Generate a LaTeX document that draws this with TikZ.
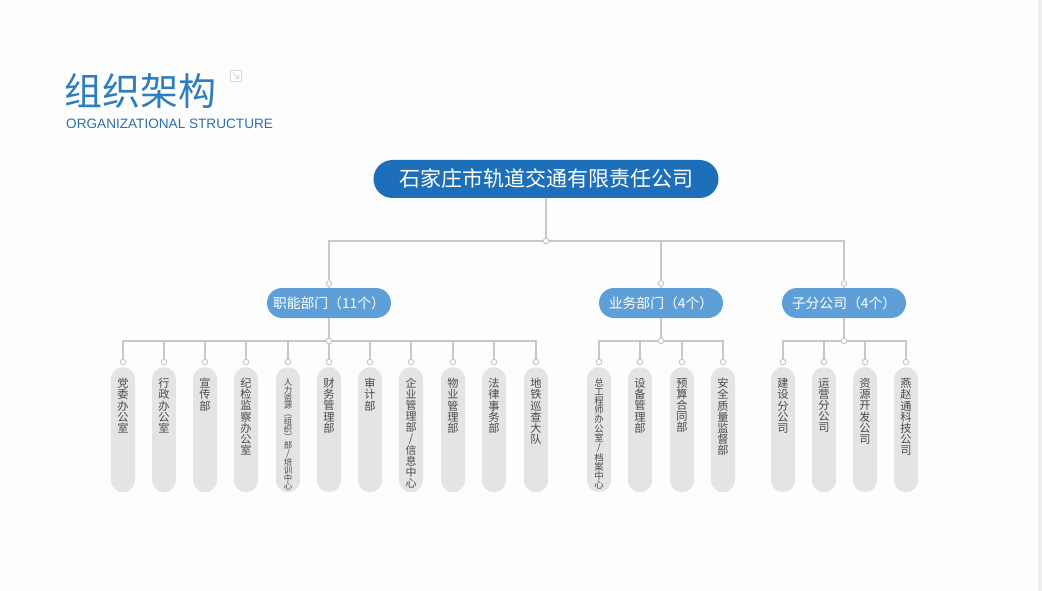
\documentclass[tikz,border=0pt]{standalone}
\usepackage{fontspec}
\newfontfamily\cjk{Noto Sans CJK SC}
\newfontfamily\lat{Liberation Sans}
\definecolor{bgc}{HTML}{FDFDFD}
\definecolor{edgec}{HTML}{EEEEEE}
\definecolor{titleblue}{HTML}{2D7EC0}
\definecolor{subblue}{HTML}{2A6FAF}
\definecolor{topblue}{HTML}{1C6FB8}
\definecolor{midblue}{HTML}{5D9FD6}
\definecolor{linec}{HTML}{C8C8CA}
\definecolor{pillc}{HTML}{E4E4E6}
\definecolor{labc}{HTML}{4A4A4A}
\definecolor{iconc}{HTML}{D8D8D8}
\tikzset{
  conn/.style={draw=linec, line width=1.4pt},
  dot/.style={circle, draw=linec, fill=white, line width=1pt, inner sep=0pt, minimum size=5.5pt},
  topbox/.style={rounded corners=19pt, fill=topblue, text=white, minimum width=345pt, minimum height=38pt, inner sep=0pt, font=\cjk\fontsize{21}{21}\selectfont},
  midbox/.style={rounded corners=15pt, fill=midblue, text=white, minimum width=124pt, minimum height=30pt, inner sep=0pt, font=\cjk\fontsize{13.8}{13.8}\selectfont},
  pill/.style={rounded corners=12pt, fill=pillc, minimum width=24pt, minimum height=125pt, anchor=north, inner sep=0pt},
  vlab/.style={anchor=north, text=labc, align=center, inner sep=0pt},
}
\newcommand\leaf[5]{%
  \node[pill] (p#1) at (#2,367) {};
  \node[dot] (e#1) at (#2,362) {};
  \node[vlab, font=\cjk\fontsize{#4}{#5}\selectfont] (t#1) at (#2,378) {#3};
}
\begin{document}
\begin{tikzpicture}[x=1pt,y=-1pt]
\useasboundingbox (0,0) rectangle (1042,591);
\fill[bgc] (0,0) rectangle (1042,591);
\fill[edgec] (1038,0) rectangle (1042,591);
% title
\node[anchor=west, text=titleblue, font=\cjk\fontsize{38}{38}\selectfont, inner sep=0pt] (title) at (64,91) {组织架构};
\node[anchor=west, text=subblue, font=\lat\fontsize{13.6}{13.6}\selectfont, inner sep=0pt] (sub) at (66,123.5) {ORGANIZATIONAL STRUCTURE};
\draw[iconc, fill=white, line width=0.8pt] (230,70) rectangle (241,81);
\draw[iconc, line width=1pt] (232.5,72.5) -- (238.5,78.5) (238.5,74.5) -- (238.5,78.5) -- (234.5,78.5);
% top
\node[topbox] (top) at (546,179) {石家庄市轨道交通有限责任公司};
\node[dot] (j0) at (546,241) {};
% middle
\node[midbox] (m1) at (329,303) {职能部门（11个）};
\node[midbox] (m2) at (661,303) {业务部门（4个）};
\node[midbox] (m3) at (844,303) {子分公司（4个）};
\node[dot] (d1) at (329,283.5) {};
\node[dot] (d2) at (661,283.5) {};
\node[dot] (d3) at (844,283.5) {};
\node[dot] (k1) at (329,341) {};
\node[dot] (k2) at (661,341) {};
\node[dot] (k3) at (844,341) {};
% leaves: functional
\leaf{a1}{123}{党\\委\\办\\公\\室}{11.2}{11.2}
\leaf{a2}{164}{行\\政\\办\\公\\室}{11.2}{11.2}
\leaf{a3}{205}{宣\\传\\部}{11.2}{11.2}
\leaf{a4}{246}{纪\\检\\监\\察\\办\\公\\室}{11.2}{11.2}
\leaf{a5}{288}{人\\力\\资\\源\\︵\\组\\织\\︶\\部\\/\\培\\训\\中\\心}{8.4}{7.9}
\leaf{a6}{329}{财\\务\\管\\理\\部}{11.2}{11.2}
\leaf{a7}{370}{审\\计\\部}{11.2}{11.2}
\leaf{a8}{411}{企\\业\\管\\理\\部\\/\\信\\息\\中\\心}{11}{11}
\leaf{a9}{453}{物\\业\\管\\理\\部}{11.2}{11.2}
\leaf{a10}{494}{法\\律\\事\\务\\部}{11.2}{11.2}
\leaf{a11}{536}{地\\铁\\巡\\查\\大\\队}{11.2}{11.2}
% business
\leaf{b1}{599}{总\\工\\程\\师\\办\\公\\室\\/\\档\\案\\中\\心}{9.4}{9.2}
\leaf{b2}{640}{设\\备\\管\\理\\部}{11.2}{11.2}
\leaf{b3}{682}{预\\算\\合\\同\\部}{11.2}{11.2}
\leaf{b4}{723}{安\\全\\质\\量\\监\\督\\部}{11.2}{11.2}
% subsidiaries
\leaf{c1}{783}{建\\设\\分\\公\\司}{11.2}{11.2}
\leaf{c2}{824}{运\\营\\分\\公\\司}{11.2}{11.2}
\leaf{c3}{865}{资\\源\\开\\发\\公\\司}{11.2}{11.2}
\leaf{c4}{906}{燕\\赵\\通\\科\\技\\公\\司}{11.2}{11.2}
% connectors
\draw[conn] (top) -- (j0);
\draw[conn] (d1) |- (j0) -| (d3);
\draw[conn] (d2) -- (d2 |- j0);
\draw[conn] (d1) -- (m1) (d2) -- (m2) (d3) -- (m3);
\draw[conn] (m1) -- (k1) (m2) -- (k2) (m3) -- (k3);
\draw[conn] (ea1) |- (k1) -| (ea11);
\foreach \i in {2,3,4,5,7,8,9,10} \draw[conn] (ea\i) -- (ea\i |- k1);
\draw[conn] (ea6) -- (k1);
\draw[conn] (eb1) |- (k2) -| (eb4);
\foreach \i in {2,3} \draw[conn] (eb\i) -- (eb\i |- k2);
\draw[conn] (ec1) |- (k3) -| (ec4);
\foreach \i in {2,3} \draw[conn] (ec\i) -- (ec\i |- k3);
\end{tikzpicture}
\end{document}
